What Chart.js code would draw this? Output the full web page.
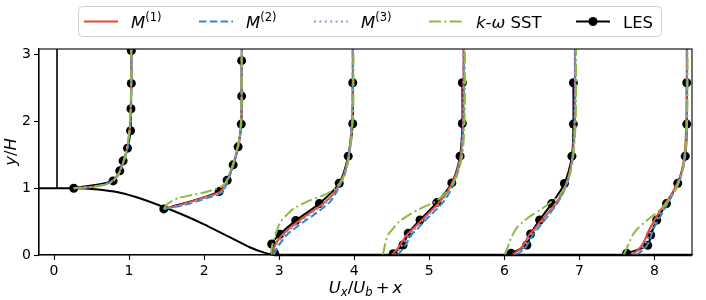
<!DOCTYPE html>
<html>
<head>
<meta charset="utf-8">
<script src="https://cdn.jsdelivr.net/npm/chart.js@4"></script>
<style>
  body { margin: 0; background: #fff; }
  #chart { display: block; }
</style>
</head>
<body>
<canvas id="chart" width="706" height="300"></canvas>
<script>
// axis ticks
const xTicks = [0, 1, 2, 3, 4, 5, 6, 7, 8];
const yTicks = [0, 1, 2, 3];

// series names
const seriesNames = ['M(1)', 'M(2)', 'M(3)', 'k-ω SST', 'LES'];

// hill wall, floor and inlet line
const hillX = [-0.2, 0.26, 0.5, 0.8, 1.1, 1.4, 1.7, 2.0, 2.3, 2.6, 2.8, 2.93];
const hillY = [1, 1, 0.99, 0.95, 0.865, 0.745, 0.61, 0.46, 0.29, 0.12, 0.035, 0];
const floorX = [2.93, 8.5];
const floorY = [0, 0];
const inletX = [0.04, 0.04];
const inletY = [1, 3.085];

// profile 1 (hill crest)
const p1Y = [1.0, 1.02, 1.05, 1.1, 1.2, 1.4, 1.6, 1.9, 2.2, 2.6, 3.085];
const p1M1 = [0.263, 0.50, 0.66, 0.77, 0.85, 0.925, 0.975, 1.01, 1.022, 1.03, 1.03];
const p1M2 = [0.263, 0.48, 0.64, 0.765, 0.855, 0.93, 0.98, 1.013, 1.025, 1.032, 1.032];
const p1M3 = [0.263, 0.49, 0.65, 0.768, 0.852, 0.928, 0.978, 1.012, 1.024, 1.031, 1.031];
const p1SST = [0.263, 0.52, 0.68, 0.78, 0.855, 0.925, 0.972, 1.006, 1.02, 1.028, 1.028];
const p1LesX = [0.263, 0.787, 0.876, 0.92, 0.979, 1.02, 1.025, 1.03, 1.03];
const p1LesY = [1.0, 1.11, 1.26, 1.41, 1.60, 1.86, 2.19, 2.57, 3.06];

// profile 2 (hill slope)
const p2Y = [0.69, 0.75, 0.8, 0.85, 0.9, 0.95, 1.05, 1.2, 1.4, 1.7, 2.0, 2.5, 3.085];
const p2M1 = [1.463, 1.68, 1.83, 1.97, 2.12, 2.22, 2.28, 2.34, 2.40, 2.465, 2.495, 2.5, 2.5];
const p2M2 = [1.463, 1.74, 1.89, 2.03, 2.17, 2.25, 2.295, 2.345, 2.405, 2.468, 2.497, 2.502, 2.502];
const p2M3 = [1.463, 1.70, 1.85, 1.99, 2.14, 2.23, 2.285, 2.342, 2.402, 2.466, 2.496, 2.5, 2.5];
const p2SST = [1.463, 1.50, 1.56, 1.65, 1.85, 2.05, 2.26, 2.33, 2.395, 2.46, 2.49, 2.5, 2.5];
const p2LesX = [1.463, 2.2, 2.307, 2.387, 2.453, 2.495, 2.5, 2.5];
const p2LesY = [0.69, 0.95, 1.12, 1.35, 1.62, 1.96, 2.38, 2.91];

// profiles 3-6 share y levels
const wakeY = [0, 0.1, 0.2, 0.3, 0.4, 0.5, 0.6, 0.7, 0.8, 0.9, 1.0, 1.2, 1.5, 2.0, 2.5, 3.085];

const p3M1 = [2.93, 2.93, 2.97, 3.04, 3.14, 3.25, 3.37, 3.50, 3.62, 3.71, 3.77, 3.86, 3.925, 3.97, 3.98, 3.98];
const p3M2 = [2.93, 2.97, 3.03, 3.10, 3.21, 3.33, 3.46, 3.58, 3.68, 3.74, 3.79, 3.87, 3.93, 3.97, 3.98, 3.98];
const p3M3 = [2.93, 2.94, 2.99, 3.06, 3.16, 3.28, 3.40, 3.53, 3.64, 3.72, 3.78, 3.865, 3.928, 3.97, 3.98, 3.98];
const p3SST = [2.90, 2.90, 2.92, 2.95, 2.98, 3.02, 3.10, 3.20, 3.37, 3.60, 3.75, 3.87, 3.935, 3.98, 3.99, 3.99];
const p3LesX = [2.94, 2.90, 3.01, 3.22, 3.535, 3.80, 3.92, 3.98, 3.98];
const p3LesY = [0.025, 0.165, 0.31, 0.515, 0.77, 1.075, 1.48, 1.965, 2.58];

const p4M1 = [4.50, 4.58, 4.64, 4.70, 4.79, 4.88, 4.97, 5.06, 5.14, 5.21, 5.27, 5.35, 5.42, 5.45, 5.455, 5.455];
const p4M2 = [4.58, 4.65, 4.71, 4.76, 4.85, 4.93, 5.02, 5.11, 5.19, 5.25, 5.30, 5.37, 5.43, 5.455, 5.46, 5.46];
const p4M3 = [4.54, 4.61, 4.67, 4.73, 4.82, 4.90, 4.99, 5.08, 5.16, 5.23, 5.28, 5.36, 5.425, 5.45, 5.455, 5.455];
const p4SST = [4.38, 4.40, 4.42, 4.45, 4.52, 4.60, 4.73, 4.89, 5.08, 5.19, 5.27, 5.37, 5.44, 5.47, 5.475, 5.475];
const p4LesX = [4.52, 4.65, 4.72, 4.876, 5.10, 5.30, 5.41, 5.44, 5.44];
const p4LesY = [0.02, 0.15, 0.325, 0.525, 0.785, 1.08, 1.48, 1.97, 2.58];

const p5M1 = [6.10, 6.22, 6.28, 6.33, 6.41, 6.48, 6.56, 6.63, 6.70, 6.76, 6.80, 6.86, 6.91, 6.935, 6.94, 6.94];
const p5M2 = [6.16, 6.27, 6.33, 6.38, 6.45, 6.52, 6.59, 6.66, 6.72, 6.77, 6.81, 6.87, 6.915, 6.94, 6.945, 6.945];
const p5M3 = [6.13, 6.25, 6.30, 6.35, 6.43, 6.50, 6.575, 6.645, 6.71, 6.765, 6.805, 6.865, 6.91, 6.935, 6.94, 6.94];
const p5SST = [6.00, 6.04, 6.07, 6.11, 6.16, 6.25, 6.37, 6.51, 6.63, 6.74, 6.80, 6.87, 6.92, 6.95, 6.955, 6.955];
const p5LesX = [6.09, 6.30, 6.35, 6.47, 6.63, 6.80, 6.90, 6.92, 6.92];
const p5LesY = [0.025, 0.15, 0.315, 0.525, 0.77, 1.07, 1.48, 1.96, 2.58];

const p6M1 = [7.70, 7.80, 7.86, 7.90, 7.94, 7.99, 8.04, 8.10, 8.16, 8.22, 8.27, 8.35, 8.40, 8.425, 8.43, 8.43];
const p6M2 = [7.76, 7.87, 7.93, 7.96, 7.99, 8.04, 8.09, 8.14, 8.19, 8.24, 8.29, 8.36, 8.41, 8.43, 8.435, 8.435];
const p6M3 = [7.73, 7.83, 7.89, 7.93, 7.965, 8.015, 8.065, 8.12, 8.175, 8.23, 8.28, 8.355, 8.405, 8.428, 8.432, 8.432];
const p6SST = [7.59, 7.63, 7.67, 7.71, 7.78, 7.88, 7.99, 8.10, 8.18, 8.24, 8.29, 8.36, 8.41, 8.435, 8.44, 8.44];
const p6LesX = [7.63, 7.91, 7.95, 8.03, 8.16, 8.31, 8.41, 8.43, 8.43];
const p6LesY = [0.025, 0.145, 0.30, 0.525, 0.77, 1.075, 1.48, 1.96, 2.58];

const profiles = [
    { y: p1Y, m1: p1M1, m2: p1M2, m3: p1M3, sst: p1SST, lesX: p1LesX, lesY: p1LesY },
    { y: p2Y, m1: p2M1, m2: p2M2, m3: p2M3, sst: p2SST, lesX: p2LesX, lesY: p2LesY },
    { y: wakeY, m1: p3M1, m2: p3M2, m3: p3M3, sst: p3SST, lesX: p3LesX, lesY: p3LesY },
    { y: wakeY, m1: p4M1, m2: p4M2, m3: p4M3, sst: p4SST, lesX: p4LesX, lesY: p4LesY },
    { y: wakeY, m1: p5M1, m2: p5M2, m3: p5M3, sst: p5SST, lesX: p5LesX, lesY: p5LesY },
    { y: wakeY, m1: p6M1, m2: p6M2, m3: p6M3, sst: p6SST, lesX: p6LesX, lesY: p6LesY },
];

const red = '#E24A33', blue = '#348ABD', purple = '#988ED5', green = '#8EBA42';
const dashM2 = [7.5, 3.3];
const dashM3 = [2, 3.4];
const dashSST = [12, 3.3, 2, 3.3];

function pts(xs, ys) {
    return xs.map((x, i) => ({ x: x, y: ys[i] }));
}

function curve(label, xs, ys, color, dash, order) {
    return {
        label: label,
        data: pts(xs, ys),
        showLine: true,
        borderColor: color,
        borderWidth: 2,
        borderDash: dash,
        pointRadius: 0,
        tension: 0.3,
        fill: false,
        order: order,
        clip: 0,
    };
}

const datasets = [];
datasets.push({ ...curve('wall', hillX, hillY, '#000', [], 7), tension: 0.2, clip: false });
datasets.push({ ...curve('floor', floorX, floorY, '#000', [], 7), tension: 0, borderWidth: 2.5, clip: false });
datasets.push({ ...curve('inlet', inletX, inletY, '#000', [], 7), tension: 0, borderWidth: 1.6 });

profiles.forEach(p => {
    datasets.push({
        ...curve(seriesNames[4], p.lesX, p.lesY, '#000', [], 5),
        pointRadius: 4.5,
        pointBackgroundColor: '#000',
        pointBorderColor: '#000',
        pointBorderWidth: 0,
    });
    datasets.push(curve(seriesNames[0], p.m1, p.y, red, [], 4));
    datasets.push(curve(seriesNames[1], p.m2, p.y, blue, dashM2, 3));
    datasets.push(curve(seriesNames[2], p.m3, p.y, purple, dashM3, 2));
    datasets.push(curve(seriesNames[3], p.sst, p.y, green, dashSST, 1));
});

const FONT = '"DejaVu Sans"';

function drawParts(ctx, parts, x, y, size) {
    parts.forEach(p => {
        const s = (p.sup || p.sub) ? size * 0.7 : size;
        ctx.font = (p.it ? 'italic ' : '') + s + 'px ' + FONT;
        const dy = p.sup ? -size * 0.42 : (p.sub ? size * 0.2 : 0);
        ctx.fillText(p.t, x, y + dy);
        x += ctx.measureText(p.t).width + (p.gap || 0);
    });
    return x;
}

function partsWidth(ctx, parts, size) {
    let w = 0;
    parts.forEach(p => {
        const s = (p.sup || p.sub) ? size * 0.7 : size;
        ctx.font = (p.it ? 'italic ' : '') + s + 'px ' + FONT;
        w += ctx.measureText(p.t).width + (p.gap || 0);
    });
    return w;
}

const decorations = {
    id: 'decorations',
    afterDraw(chart) {
        const ctx = chart.ctx;
        const a = chart.chartArea;
        ctx.save();

        // frame
        ctx.strokeStyle = '#000';
        ctx.lineWidth = 1.1;
        ctx.setLineDash([]);
        ctx.strokeRect(a.left, a.top, a.right - a.left, a.bottom - a.top);

        // axis titles
        ctx.fillStyle = '#000';
        ctx.textBaseline = 'alphabetic';
        const xt = [
            { t: 'U', it: true }, { t: 'x', it: true, sub: true }, { t: '/' },
            { t: 'U', it: true }, { t: 'b', it: true, sub: true, gap: 3 },
            { t: '+', gap: 3 }, { t: 'x', it: true },
        ];
        const size = 16.5;
        const xw = partsWidth(ctx, xt, size);
        drawParts(ctx, xt, (a.left + a.right) / 2 - xw / 2, 293, size);

        const yt = [{ t: 'y', it: true }, { t: '/' }, { t: 'H', it: true }];
        const yw = partsWidth(ctx, yt, size);
        ctx.save();
        ctx.translate(16, (a.top + a.bottom) / 2);
        ctx.rotate(-Math.PI / 2);
        drawParts(ctx, yt, -yw / 2, 0, size);
        ctx.restore();

        // legend
        const bx = 78.5, by = 6.5, bw = 583, bh = 30, r = 4;
        ctx.beginPath();
        ctx.moveTo(bx + r, by);
        ctx.arcTo(bx + bw, by, bx + bw, by + bh, r);
        ctx.arcTo(bx + bw, by + bh, bx, by + bh, r);
        ctx.arcTo(bx, by + bh, bx, by, r);
        ctx.arcTo(bx, by, bx + bw, by, r);
        ctx.closePath();
        ctx.fillStyle = 'rgba(255,255,255,0.8)';
        ctx.fill();
        ctx.strokeStyle = '#d0d0d0';
        ctx.lineWidth = 1;
        ctx.stroke();

        const cy = 21.5;
        const items = [
            { x0: 84, color: red, dash: [], parts: [{ t: 'M', it: true }, { t: '(1)', sup: true }] },
            { x0: 199, color: blue, dash: dashM2, parts: [{ t: 'M', it: true }, { t: '(2)', sup: true }] },
            { x0: 314, color: purple, dash: dashM3, parts: [{ t: 'M', it: true }, { t: '(3)', sup: true }] },
            { x0: 429, color: green, dash: dashSST, parts: [{ t: 'k', it: true }, { t: '-' }, { t: 'ω', it: true }, { t: ' SST' }] },
            { x0: 576, color: '#000', dash: [], marker: true, parts: [{ t: 'LES' }] },
        ];
        items.forEach(it => {
            ctx.strokeStyle = it.color;
            ctx.lineWidth = 2;
            ctx.setLineDash(it.dash);
            ctx.beginPath();
            ctx.moveTo(it.x0, cy);
            ctx.lineTo(it.x0 + 34, cy);
            ctx.stroke();
            ctx.setLineDash([]);
            if (it.marker) {
                ctx.fillStyle = '#000';
                ctx.beginPath();
                ctx.arc(it.x0 + 17, cy, 4.5, 0, Math.PI * 2);
                ctx.fill();
            }
            ctx.fillStyle = '#000';
            drawParts(ctx, it.parts, it.x0 + 47, cy + 6, size);
        });

        ctx.restore();
    }
};

const tickFont = { family: 'DejaVu Sans', size: 14 };

const chart = new Chart(document.getElementById('chart').getContext('2d'), {
    type: 'scatter',
    data: { datasets: datasets },
    options: {
        responsive: false,
        devicePixelRatio: 1,
        animation: false,
        layout: { padding: { top: 49, right: 14, left: 0, bottom: 0 } },
        plugins: {
            legend: { display: false },
            tooltip: { enabled: false },
        },
        scales: {
            x: {
                type: 'linear',
                min: -0.2,
                max: 8.5,
                afterBuildTicks: s => { s.ticks = xTicks.map(v => ({ value: v })); },
                afterFit: s => { s.height = 45; },
                grid: { drawOnChartArea: false, color: '#000', tickLength: 5, tickWidth: 1.1 },
                border: { color: '#000', width: 1.1 },
                ticks: { color: '#000', font: tickFont, padding: 3, maxRotation: 0, autoSkip: false },
            },
            y: {
                type: 'linear',
                min: 0,
                max: 3.085,
                afterBuildTicks: s => { s.ticks = yTicks.map(v => ({ value: v })); },
                afterFit: s => { s.width = 39; },
                grid: { drawOnChartArea: false, color: '#000', tickLength: 5, tickWidth: 1.1 },
                border: { color: '#000', width: 1.1 },
                ticks: { color: '#000', font: tickFont, padding: 3, autoSkip: false },
            },
        },
    },
    plugins: [decorations],
});
</script>
</body>
</html>
